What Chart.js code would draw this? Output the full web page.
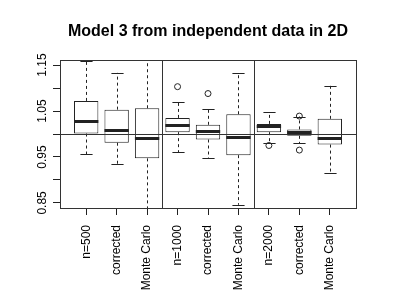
<!DOCTYPE html>
<html>
<head>
<meta charset="utf-8">
<script src="https://cdn.jsdelivr.net/npm/chart.js@4"></script>
<style>
  html, body { margin: 0; padding: 0; background: #fff; }
  #wrap { width: 415px; height: 293px; }
</style>
</head>
<body>
<div id="wrap"><canvas id="chart"></canvas></div>
<script>
// categories and box statistics
const labels = ['n=500', 'corrected', 'Monte Carlo', 'n=1000', 'corrected', 'Monte Carlo', 'n=2000', 'corrected', 'Monte Carlo'];
const whiskerLow  = [0.956, 0.935, 0.830, 0.960, 0.947, 0.846, 0.981, 0.980, 0.916];
const q1          = [1.001, 0.981, 0.947, 1.004, 0.988, 0.954, 1.004, 0.996, 0.977];
const medians     = [1.028, 1.009, 0.992, 1.020, 1.006, 0.993, 1.017, 1.004, 0.992];
const q3          = [1.072, 1.053, 1.056, 1.035, 1.020, 1.043, 1.022, 1.010, 1.033];
const whiskerHigh = [1.159, 1.133, 1.165, 1.069, 1.054, 1.132, 1.047, 1.038, 1.105];
const outlierX = [4, 5, 7, 8, 8];
const outlierY = [1.103, 1.088, 0.975, 1.039, 0.965];
const yTicks = [0.85, 0.90, 0.95, 1.00, 1.05, 1.10, 1.15];
const yLabelled = [0.85, 0.95, 1.05, 1.15];
const refLine = 1.0;
const groupSeparators = [3.5, 6.5];

const boxData = labels.map((l, i) => ({ x: i + 1, y: [q1[i], q3[i]] }));
const outlierData = outlierX.map((x, i) => ({ x: x, y: outlierY[i] }));

const boxplotExtras = {
  id: 'boxplotExtras',
  beforeDatasetsDraw(chart) {
    const { ctx, chartArea, scales: { x, y } } = chart;
    ctx.save();
    ctx.beginPath();
    ctx.rect(chartArea.left, chartArea.top, chartArea.right - chartArea.left, chartArea.bottom - chartArea.top);
    ctx.clip();
    ctx.strokeStyle = '#222';
    ctx.lineWidth = 1;
    const boxW = Math.abs(x.getPixelForValue(1.4) - x.getPixelForValue(0.6));
    // whiskers
    for (let i = 0; i < labels.length; i++) {
      const cx = Math.round(x.getPixelForValue(i + 1)) + 0.5;
      const yl = y.getPixelForValue(whiskerLow[i]);
      const yh = y.getPixelForValue(whiskerHigh[i]);
      const y1 = y.getPixelForValue(q1[i]);
      const y3 = y.getPixelForValue(q3[i]);
      ctx.setLineDash([3, 3]);
      ctx.beginPath();
      ctx.moveTo(cx, y3); ctx.lineTo(cx, yh);
      ctx.moveTo(cx, y1); ctx.lineTo(cx, yl);
      ctx.stroke();
      ctx.setLineDash([]);
      ctx.beginPath();
      ctx.moveTo(cx - boxW / 4, Math.round(yh) + 0.5); ctx.lineTo(cx + boxW / 4, Math.round(yh) + 0.5);
      ctx.moveTo(cx - boxW / 4, Math.round(yl) + 0.5); ctx.lineTo(cx + boxW / 4, Math.round(yl) + 0.5);
      ctx.stroke();
    }
    ctx.restore();
  },
  afterDatasetsDraw(chart) {
    const { ctx, chartArea, scales: { x, y } } = chart;
    ctx.save();
    ctx.strokeStyle = '#222';
    const boxW = Math.abs(x.getPixelForValue(1.4) - x.getPixelForValue(0.6));
    // medians
    ctx.lineWidth = 3;
    for (let i = 0; i < labels.length; i++) {
      const cx = x.getPixelForValue(i + 1);
      const ym = Math.round(y.getPixelForValue(medians[i])) + 0.5;
      ctx.beginPath();
      ctx.moveTo(cx - boxW / 2, ym); ctx.lineTo(cx + boxW / 2, ym);
      ctx.stroke();
    }
    ctx.lineWidth = 1;
    // reference line and group separators
    ctx.strokeStyle = '#333';
    const yr = Math.round(y.getPixelForValue(refLine)) + 0.5;
    ctx.beginPath();
    ctx.moveTo(chartArea.left, yr); ctx.lineTo(chartArea.right, yr);
    groupSeparators.forEach(v => {
      const px = Math.round(x.getPixelForValue(v)) + 0.5;
      ctx.moveTo(px, chartArea.top); ctx.lineTo(px, chartArea.bottom);
    });
    ctx.stroke();
    // frame
    ctx.strokeRect(Math.round(chartArea.left) + 0.5, Math.round(chartArea.top) + 0.5,
      Math.round(chartArea.right - chartArea.left), Math.round(chartArea.bottom - chartArea.top));
    // title
    ctx.fillStyle = '#000';
    ctx.font = 'bold 16px "Liberation Sans", Arial, sans-serif';
    ctx.textAlign = 'center';
    ctx.textBaseline = 'alphabetic';
    ctx.fillText('Model 3 from independent data in 2D', (chartArea.left + chartArea.right) / 2, 36);
    ctx.restore();
  }
};

new Chart(document.getElementById('chart'), {
  type: 'bar',
  data: {
    datasets: [
      {
        type: 'bar',
        data: boxData,
        backgroundColor: '#fff',
        borderColor: '#222',
        borderWidth: 1,
        borderSkipped: false,
        categoryPercentage: 0.8,
        barPercentage: 1.0
      },
      {
        type: 'scatter',
        data: outlierData,
        pointStyle: 'circle',
        pointRadius: 3,
        backgroundColor: 'rgba(0,0,0,0)',
        borderColor: '#222',
        borderWidth: 1
      }
    ]
  },
  options: {
    responsive: true,
    maintainAspectRatio: false,
    animation: false,
    layout: { padding: { top: 60, right: 59, bottom: 0, left: 0 } },
    plugins: { legend: { display: false }, tooltip: { enabled: false }, title: { display: false } },
    scales: {
      x: {
        type: 'linear',
        offset: false,
        min: 0.14,
        max: 9.86,
        afterBuildTicks: (scale) => { scale.ticks = labels.map((l, i) => ({ value: i + 1 })); },
        afterFit: (scale) => { scale.height = 85; },
        grid: { drawOnChartArea: false, offset: false, tickLength: 7, color: '#222' },
        border: { display: false },
        ticks: {
          autoSkip: false,
          minRotation: 90,
          maxRotation: 90,
          padding: 10,
          color: '#000',
          font: { family: '"Liberation Sans", Arial, sans-serif', size: 12 },
          callback: (v) => labels[Math.round(v) - 1]
        }
      },
      y: {
        type: 'linear',
        min: 0.839,
        max: 1.161,
        afterBuildTicks: (scale) => { scale.ticks = yTicks.map(v => ({ value: v })); },
        afterFit: (scale) => { scale.width = 60; },
        grid: { drawOnChartArea: false, tickLength: 7, color: '#222' },
        border: { display: false },
        ticks: {
          autoSkip: false,
          minRotation: 90,
          maxRotation: 90,
          crossAlign: 'center',
          padding: -1,
          color: '#000',
          font: { family: '"Liberation Sans", Arial, sans-serif', size: 12 },
          callback: (v) => yLabelled.some(t => Math.abs(t - v) < 1e-6) ? v.toFixed(2) : ''
        }
      }
    }
  },
  plugins: [boxplotExtras]
});
</script>
</body>
</html>
